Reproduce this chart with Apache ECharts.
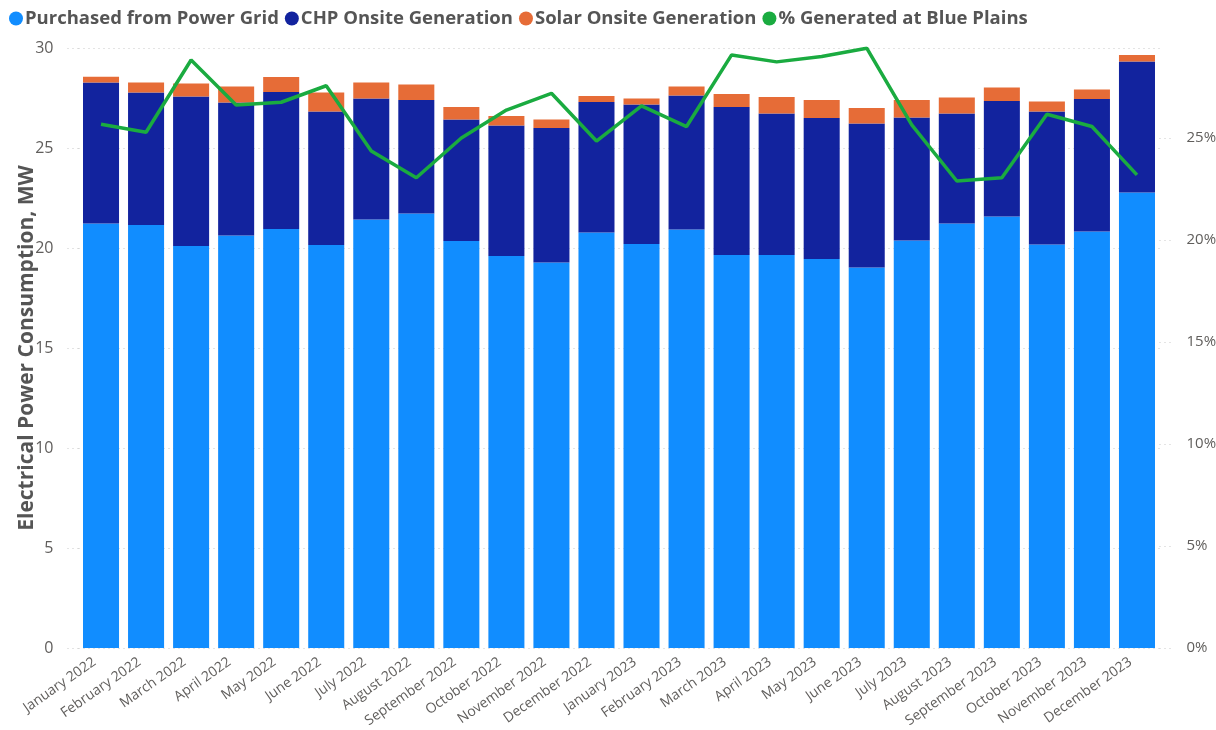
<!DOCTYPE html>
<html>
<head>
<meta charset="utf-8">
<script src="https://cdn.jsdelivr.net/npm/echarts@6/dist/echarts.min.js"></script>
<style>
  html, body { margin: 0; padding: 0; background: #fff; }
  #chart { width: 1216px; height: 730px; }
</style>
</head>
<body>
<div id="chart"></div>
<script>
const months = [
  'January 2022', 'February 2022', 'March 2022', 'April 2022', 'May 2022', 'June 2022',
  'July 2022', 'August 2022', 'September 2022', 'October 2022', 'November 2022', 'December 2022',
  'January 2023', 'February 2023', 'March 2023', 'April 2023', 'May 2023', 'June 2023',
  'July 2023', 'August 2023', 'September 2023', 'October 2023', 'November 2023', 'December 2023'
]

// MW
const gridPower = [21.23, 21.15, 20.1, 20.63, 20.95, 20.15, 21.42, 21.72, 20.35, 19.6, 19.27, 20.77,
  20.2, 20.93, 19.65, 19.65, 19.45, 19.03, 20.37, 21.22, 21.57, 20.17, 20.82, 22.78]
const chpPower = [7.05, 6.62, 7.47, 6.65, 6.85, 6.68, 6.06, 5.68, 6.07, 6.52, 6.73, 6.53,
  6.97, 6.69, 7.4, 7.08, 7.05, 7.19, 6.15, 5.51, 5.78, 6.65, 6.63, 6.55]
const solarPower = [0.28, 0.51, 0.65, 0.8, 0.75, 0.94, 0.8, 0.78, 0.63, 0.48, 0.42, 0.3,
  0.3, 0.45, 0.65, 0.82, 0.9, 0.78, 0.88, 0.8, 0.67, 0.51, 0.47, 0.32]
// percent
const pctOnsite = [25.67, 25.28, 28.82, 26.62, 26.75, 27.56, 24.36, 23.05, 25.0, 26.37, 27.19, 24.85,
  26.57, 25.56, 29.07, 28.73, 28.99, 29.4, 25.64, 22.89, 23.05, 26.16, 25.56, 23.19]

const font = '"Open Sans", "Noto Sans", sans-serif'
const gray = '#605E5C'
const dots = { color: '#c8c8c8', type: [1, 4] }

const chart = echarts.init(document.getElementById('chart'))

const barSeries = (name, data, color) => ({
  name,
  type: 'bar',
  stack: 'power',
  data,
  barCategoryGap: '20%',
  itemStyle: { color },
  emphasis: { disabled: true }
})

chart.setOption({
  animation: false,
  textStyle: { fontFamily: font },
  legend: {
    left: 4,
    top: 4,
    icon: 'circle',
    itemWidth: 14,
    itemHeight: 14,
    itemGap: 6,
    textStyle: { fontFamily: font, fontSize: 18.5, fontWeight: 'bold', color: '#555', padding: [0, 0, 0, -3] },
    data: ['Purchased from Power Grid', 'CHP Onsite Generation', 'Solar Onsite Generation', '% Generated at Blue Plains']
  },
  grid: { left: 78.5, right: 56.5, top: 48, bottom: 82, containLabel: false, outerBoundsMode: 'none' },
  xAxis: {
    type: 'category',
    data: months,
    axisLine: { show: false },
    axisTick: { show: false },
    axisLabel: { rotate: 35, color: gray, fontSize: 14, margin: 8, interval: 0, padding: [0, 8, 0, 0] }
  },
  yAxis: [
    {
      type: 'value',
      min: 0,
      max: 30,
      interval: 5,
      name: 'Electrical Power Consumption, MW',
      nameLocation: 'middle',
      nameGap: 41,
      nameMoveOverlap: false,
      nameTextStyle: { fontSize: 21, fontWeight: 'bold', color: '#555' },
      axisLine: { show: false },
      axisTick: { show: true, inside: false, length: 13, lineStyle: dots },
      axisLabel: { color: gray, fontSize: 16, margin: 25 },
      splitLine: { lineStyle: dots }
    },
    {
      type: 'value',
      min: 0,
      max: 29.41,
      interval: 5,
      position: 'right',
      axisLine: { show: false },
      axisTick: { show: true, length: 13, lineStyle: dots },
      axisLabel: { color: gray, fontSize: 15, margin: 27, showMaxLabel: false, formatter: '{value}%' },
      splitLine: { show: false }
    }
  ],
  series: [
    barSeries('Purchased from Power Grid', gridPower, '#118DFF'),
    barSeries('CHP Onsite Generation', chpPower, '#12239E'),
    barSeries('Solar Onsite Generation', solarPower, '#E66C37'),
    {
      name: '% Generated at Blue Plains',
      type: 'line',
      yAxisIndex: 1,
      data: pctOnsite,
      symbol: 'none',
      lineStyle: { color: '#1AAB40', width: 3.5 },
      itemStyle: { color: '#1AAB40' },
      z: 5
    }
  ]
})
</script>
</body>
</html>
